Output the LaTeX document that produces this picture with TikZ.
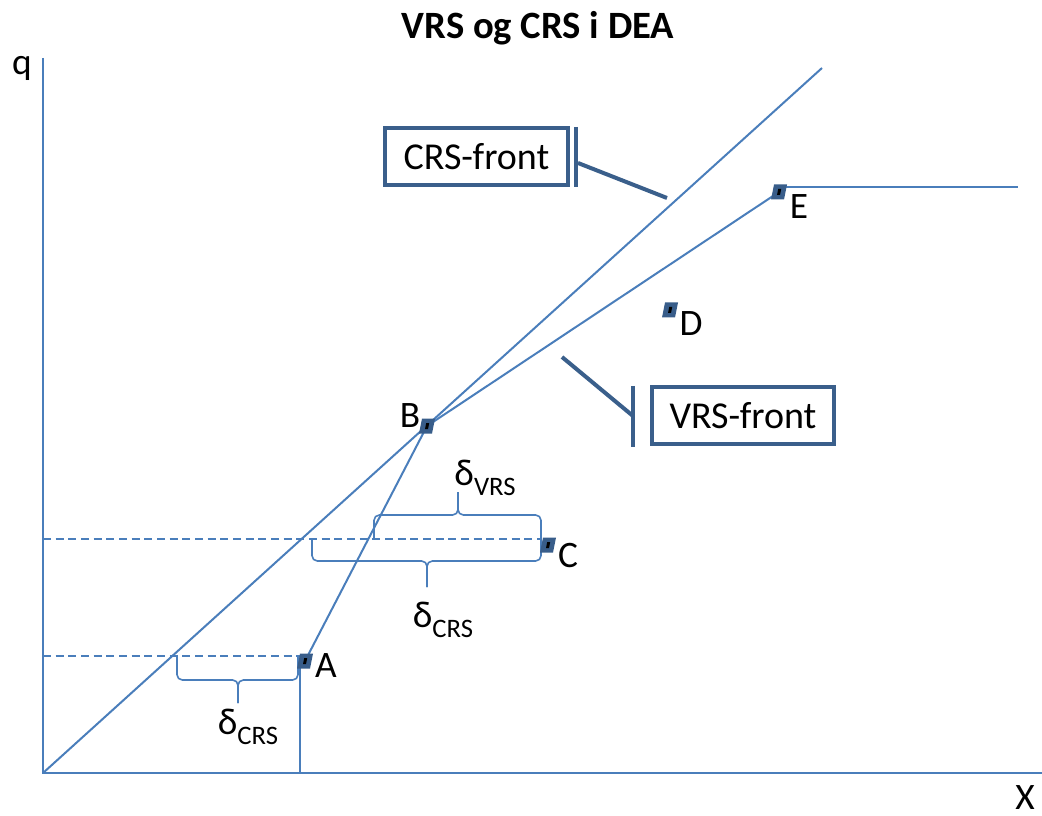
\documentclass[tikz,border=0pt]{standalone}
\usepackage{fontspec}
\setmainfont{Carlito}
\definecolor{lnc}{HTML}{4A7EBB}
\definecolor{bxc}{HTML}{3A5F8B}
\definecolor{mkc}{HTML}{385D8A}
\newcommand\mkr[1]{%
  \fill[mkc] (#1) ++(-8,7.5) -- ++(13,0) -- ++(3,-15) -- ++(-13,0) -- cycle;
  \fill[black] (#1) ++(-2,3) -- ++(3,0) -- ++(1.2,-6) -- ++(-3,0) -- cycle;}
\begin{document}
\begin{tikzpicture}[x=0.75pt,y=-0.75pt,
  ln/.style={draw=lnc,line width=1.5pt},
  dsh/.style={draw=lnc,line width=1.5pt,dash pattern=on 6pt off 3.5pt},
  br/.style={draw=lnc,line width=1.2pt,rounded corners=4pt},
  box/.style={draw=bxc,line width=3pt,minimum width=137pt,minimum height=43pt,inner sep=0pt,font=\fontsize{28.5}{30}\selectfont},
  call/.style={draw=bxc,line width=3pt},
  lbl/.style={font=\fontsize{28}{30}\selectfont,inner sep=0pt},
  dl/.style={font=\fontsize{28}{30}\selectfont,inner sep=0pt}]
\useasboundingbox (0,0) rectangle (1042,816);
% title
\node[font=\bfseries\fontsize{29}{32}\selectfont,inner sep=0pt] (title) at (538,28) {VRS og CRS i DEA};
% axes
\coordinate (O) at (43,773);
\coordinate (ytop) at (43,58);
\coordinate (xend) at (1042,773);
\draw[ln] (ytop) -- (O) -- (xend);
\node[lbl] (q) at (22,68) {q};
\node[lbl] (X) at (1025,798) {X};
% points
\coordinate (A) at (305,661);
\coordinate (B) at (427,426);
\coordinate (C) at (548,545);
\coordinate (D) at (670,310);
\coordinate (E) at (779,192);
\coordinate (Av) at (300,662);
\coordinate (crsend) at (822,68);
\coordinate (Eh) at (784,187);
\coordinate (Eend) at (1018,187);
\coordinate (yC) at (43,539);
\coordinate (Cd) at (542,539);
\coordinate (yA) at (43,656);
\coordinate (Ad) at (300,656);
% frontiers
\draw[ln] (O) -- (crsend);
\draw[ln] (A) -- (B) -- (E);
\draw[ln] (Av) -- (Av |- O);
\draw[ln] (Eh) -- (Eend);
% dashed
\draw[dsh] (yC) -- (Cd);
\draw[dsh] (yA) -- (Ad);
% braces
\draw[br] (374,538) |- (458,515) -- (458,492);
\draw[br] (541,538) |- (458,515) -- (458,492);
\draw[br] (312,538) |- (427,561) -- (427,587);
\draw[br] (541,538) |- (427,561) -- (427,587);
\draw[br] (177,657) |- (238,680) -- (238,703);
\draw[br] (298,657) |- (238,680) -- (238,703);
\node[dl] (dv) at (485,478) {δ\raisebox{-7pt}{\fontsize{20}{22}\selectfont VRS}};
\node[dl] (dc1) at (443,620) {δ\raisebox{-7pt}{\fontsize{20}{22}\selectfont CRS}};
\node[dl] (dc2) at (248,727) {δ\raisebox{-7pt}{\fontsize{20}{22}\selectfont CRS}};
% markers
\mkr{A}\mkr{B}\mkr{C}\mkr{D}\mkr{E}
\node[lbl] (lA) at (326,666) {A};
\node[lbl] (lB) at (410,416) {B};
\node[lbl] (lC) at (568,556) {C};
\node[lbl] (lD) at (691,324) {D};
\node[lbl] (lE) at (799,207) {E};
% callouts
\node[box] (crs) at (476.5,156.5) {CRS-front};
\node[box] (vrs) at (743,415.5) {VRS-front};
\coordinate (cb1) at (576,127);
\coordinate (cb2) at (576,187);
\coordinate (cl1) at (578,163);
\coordinate (cl2) at (667,198);
\draw[call] (cb1) -- (cb2);
\draw[call] (cl1) -- (cl2);
\coordinate (vb1) at (633,386);
\coordinate (vb2) at (633,447);
\coordinate (vl1) at (633,416);
\coordinate (vl2) at (562,357);
\draw[call] (vb1) -- (vb2);
\draw[call] (vl1) -- (vl2);
\end{tikzpicture}
\end{document}
